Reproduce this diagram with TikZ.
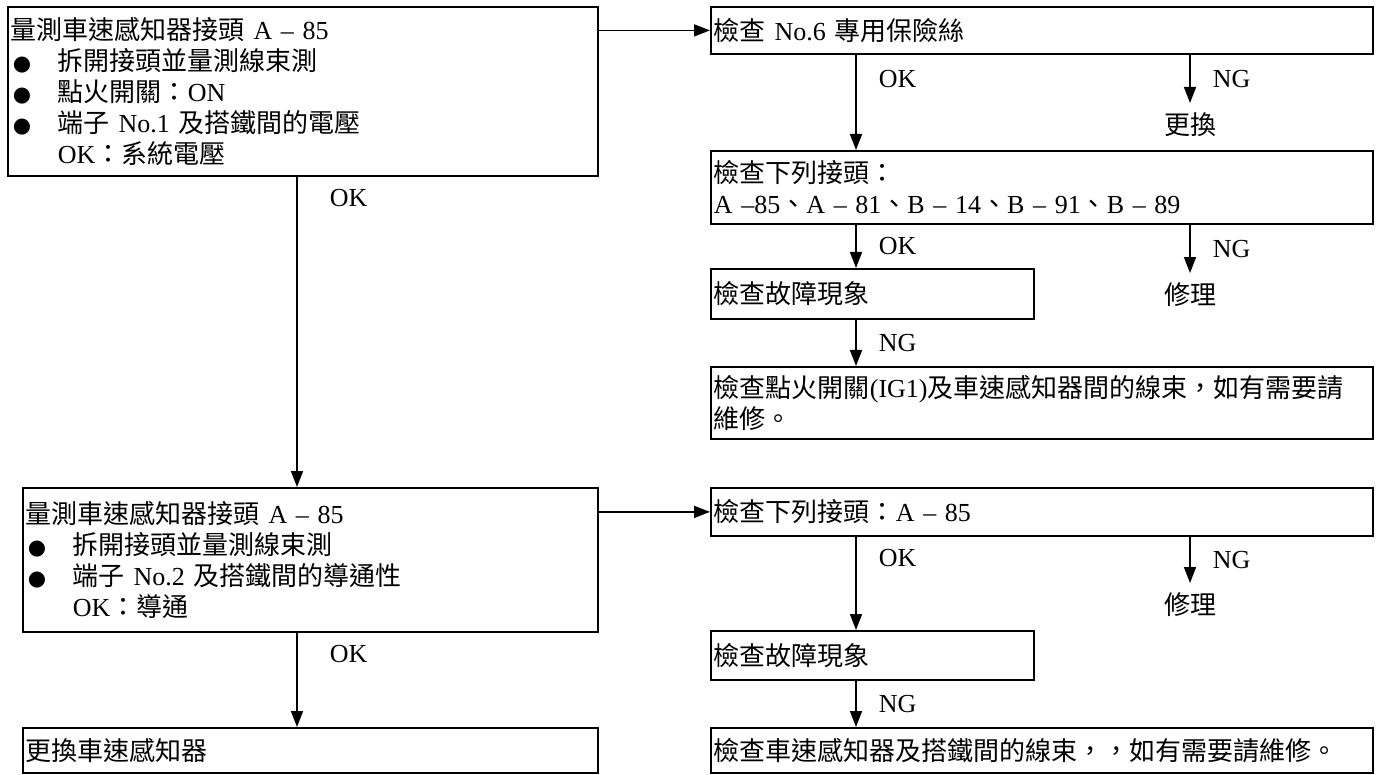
\documentclass[tikz,border=0pt]{standalone}
\usepackage{fontspec}
\setmainfont{Liberation Serif}
\newfontfamily\zhfont{Noto Sans CJK TC}
\newfontfamily\symfont{DejaVu Sans}
\usetikzlibrary{arrows.meta}
\newcommand{\zh}[1]{{\zhfont #1}}
\newcommand{\bul}{\makebox[47pt][l]{\hspace{2pt}\symfont\fontsize{21pt}{31pt}\selectfont ●}}
\newcommand{\ind}{\hspace*{47pt}}

\begin{document}
\begin{tikzpicture}[x=1pt, y=-1pt,
  font=\fontsize{26pt}{31pt}\selectfont,
  stepbox/.style={draw, line width=1.8pt, anchor=north west, align=left,
                  inner xsep=3pt, inner ysep=0pt},
  wide/.style={stepbox, text width=656pt},
  half/.style={stepbox, text width=317pt},
  result/.style={inner sep=0pt, outer sep=10pt},
  lbl/.style={right=22pt, inner sep=0pt},
  arrow/.style={-{Triangle[length=16pt, width=12pt]}, line width=1.6pt}
]
  \useasboundingbox (0,0) rectangle (1379,775);

  % left column
  \node[stepbox, text width=584pt, minimum height=169pt] (meas1) at (7,6)
    {\zh{量測車速感知器接頭} A – 85\\
     \bul\zh{拆開接頭並量測線束測}\\
     \bul\zh{點火開關：}ON\\
     \bul\zh{端子} No.1 \zh{及搭鐵間的電壓}\\
     \ind OK\zh{：系統電壓}};
  \node[stepbox, text width=569pt, minimum height=144pt] (meas2) at (22,487)
    {\zh{量測車速感知器接頭} A – 85\\
     \bul\zh{拆開接頭並量測線束測}\\
     \bul\zh{端子} No.2 \zh{及搭鐵間的導通性}\\
     \ind OK\zh{：導通}};
  \node[stepbox, text width=569pt, minimum height=45pt] (swap) at (22,727)
    {\zh{更換車速感知器}};

  % right column, upper branch
  \node[wide, minimum height=47pt] (fuse) at (710,6) {\zh{檢查} No.6 \zh{專用保險絲}};
  \node[wide, minimum height=73pt] (conn1) at (710,150)
    {\zh{檢查下列接頭：}\\A –85\zh{、}A – 81\zh{、}B – 14\zh{、}B – 91\zh{、}B – 89};
  \node[half, minimum height=50pt] (symp1) at (710,268) {\zh{檢查故障現象}};
  \node[wide, minimum height=72pt] (wire1) at (710,366)
    {\zh{檢查點火開關}(IG1)\zh{及車速感知器間的線束，如有需要請}\\\zh{維修。}};

  % right column, lower branch
  \node[wide, minimum height=48pt] (conn2) at (710,487) {\zh{檢查下列接頭：}A – 85};
  \node[half, minimum height=49pt] (symp2) at (710,630) {\zh{檢查故障現象}};
  \node[wide, minimum height=45pt] (wire2) at (710,727)
    {\zh{檢查車速感知器及搭鐵間的線束，，如有需要請維修。}};

  \node[result] (fix0) at (1190,125) {\zh{更換}};
  \node[result] (fix1) at (1190,295) {\zh{修理}};
  \node[result] (fix2) at (1190,605) {\zh{修理}};

  \coordinate (okx) at (856,0);
  \coordinate (trunk) at (297,0);

  \draw[arrow] (meas1.east |- fuse.west) -- (fuse.west);
  \draw[arrow] (fuse.south -| okx) -- node[lbl, pos=0.25] {OK} (conn1.north -| okx);
  \draw[arrow] (fuse.south -| fix0) -- node[lbl] {NG} (fix0.north);
  \draw[arrow] (conn1.south -| okx) -- node[lbl] {OK} (symp1.north -| okx);
  \draw[arrow] (conn1.south -| fix1) -- node[lbl] {NG} (fix1.north);
  \draw[arrow] (symp1.south -| okx) -- node[lbl] {NG} (wire1.north -| okx);
  \draw[arrow] (meas1.south -| trunk) -- node[lbl, right=10pt, pos=0.07] {OK} (meas2.north -| trunk);

  \draw[arrow] (meas2.east |- conn2.west) -- (conn2.west);
  \draw[arrow] (conn2.south -| okx) -- node[lbl, pos=0.23] {OK} (symp2.north -| okx);
  \draw[arrow] (conn2.south -| fix2) -- node[lbl] {NG} (fix2.north);
  \draw[arrow] (symp2.south -| okx) -- node[lbl] {NG} (wire2.north -| okx);
  \draw[arrow] (meas2.south -| trunk) -- node[lbl, right=10pt, pos=0.22] {OK} (swap.north -| trunk);
\end{tikzpicture}
\end{document}
